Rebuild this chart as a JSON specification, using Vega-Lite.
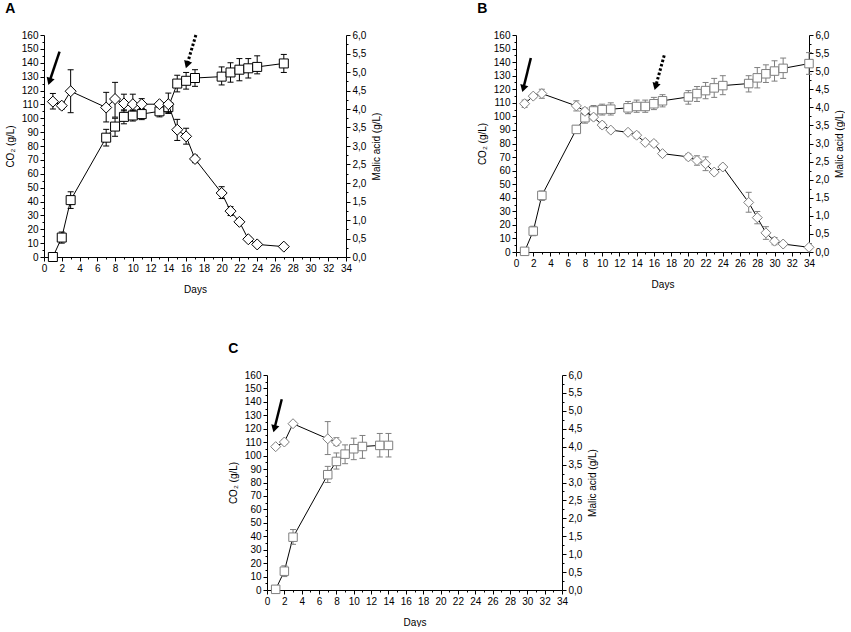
{
"$schema": "https://vega.github.io/schema/vega-lite/v6.json",
"padding": {"left": 5, "top": 2, "right": 0, "bottom": 0},
"datasets": {
"A_co2": [{"d":1,"v":0,"lo":0,"hi":0},{"d":2,"v":14,"lo":10,"hi":18},{"d":3,"v":41,"lo":35,"hi":47},{"d":7,"v":86,"lo":80,"hi":92},{"d":8,"v":94,"lo":87,"hi":100},{"d":9,"v":101,"lo":96,"hi":106},{"d":10,"v":102,"lo":98,"hi":106},{"d":11,"v":103,"lo":99,"hi":107},{"d":13,"v":105,"lo":101,"hi":109},{"d":14,"v":108,"lo":104,"hi":112},{"d":15,"v":125,"lo":119,"hi":131},{"d":16,"v":127,"lo":121,"hi":133},{"d":17,"v":129,"lo":123,"hi":135},{"d":20,"v":130,"lo":124,"hi":137},{"d":21,"v":133,"lo":126,"hi":140},{"d":22,"v":135,"lo":127,"hi":143},{"d":23,"v":136,"lo":129,"hi":143},{"d":24,"v":137,"lo":132,"hi":145},{"d":27,"v":139.5,"lo":133,"hi":146}],
"A_ma": [{"d":1,"v":4.2,"lo":4.0,"hi":4.42},{"d":2,"v":4.09,"lo":4.0,"hi":4.18},{"d":3,"v":4.48,"lo":3.9,"hi":5.06},{"d":7,"v":4.04,"lo":3.65,"hi":4.45},{"d":8,"v":4.27,"lo":3.78,"hi":4.72},{"d":9,"v":4.15,"lo":3.95,"hi":4.4},{"d":10,"v":4.13,"lo":3.95,"hi":4.4},{"d":11,"v":4.13,"lo":4.0,"hi":4.28},{"d":13,"v":4.13,"lo":4.05,"hi":4.2},{"d":14,"v":4.13,"lo":3.88,"hi":4.43},{"d":15,"v":3.44,"lo":3.15,"hi":3.72},{"d":16,"v":3.26,"lo":3.05,"hi":3.48},{"d":17,"v":2.65,"lo":2.55,"hi":2.75},{"d":20,"v":1.73,"lo":1.58,"hi":1.9},{"d":21,"v":1.24,"lo":1.12,"hi":1.36},{"d":22,"v":0.95,"lo":0.88,"hi":1.02},{"d":23,"v":0.48,"lo":0.42,"hi":0.54},{"d":24,"v":0.34,"lo":0.3,"hi":0.4},{"d":27,"v":0.28,"lo":0.22,"hi":0.34}],
"A_arr": [{"x":1.75,"y":148,"xt":0.62,"yt":126.5,"s":"solid"},{"x":17.1,"y":160,"xt":16.1,"yt":138.6,"s":"dotted"}],
"B_co2": [{"d":1,"v":0.5,"lo":0,"hi":1},{"d":2,"v":15.4,"lo":12,"hi":19},{"d":3,"v":41.7,"lo":38,"hi":45},{"d":7,"v":90.4,"lo":88,"hi":93},{"d":8,"v":99,"lo":95,"hi":103},{"d":9,"v":104,"lo":100,"hi":108},{"d":10,"v":105,"lo":101,"hi":109},{"d":11,"v":105.3,"lo":101,"hi":110},{"d":13,"v":106.3,"lo":102,"hi":111},{"d":14,"v":107.3,"lo":103,"hi":112},{"d":15,"v":107.3,"lo":103,"hi":112},{"d":16,"v":109.3,"lo":105,"hi":114},{"d":17,"v":111.5,"lo":107,"hi":116},{"d":20,"v":114.3,"lo":109,"hi":119},{"d":21,"v":116.8,"lo":111,"hi":122},{"d":22,"v":119,"lo":113,"hi":125},{"d":23,"v":121,"lo":114,"hi":128},{"d":24,"v":122.7,"lo":116,"hi":130},{"d":27,"v":124.2,"lo":118,"hi":130},{"d":28,"v":128.4,"lo":121,"hi":136},{"d":29,"v":131.4,"lo":125,"hi":138},{"d":30,"v":133.4,"lo":126,"hi":141},{"d":31,"v":135.4,"lo":128,"hi":143},{"d":34,"v":138.9,"lo":131,"hi":147}],
"B_ma": [{"d":1,"v":4.1,"lo":4.0,"hi":4.2},{"d":2,"v":4.31,"lo":4.25,"hi":4.37},{"d":3,"v":4.38,"lo":4.25,"hi":4.5},{"d":7,"v":4.04,"lo":3.9,"hi":4.18},{"d":8,"v":3.89,"lo":3.8,"hi":3.98},{"d":9,"v":3.73,"lo":3.65,"hi":3.81},{"d":10,"v":3.51,"lo":3.43,"hi":3.59},{"d":11,"v":3.37,"lo":3.3,"hi":3.44},{"d":13,"v":3.31,"lo":3.25,"hi":3.37},{"d":14,"v":3.23,"lo":3.15,"hi":3.31},{"d":15,"v":3.03,"lo":2.97,"hi":3.09},{"d":16,"v":3.0,"lo":2.93,"hi":3.07},{"d":17,"v":2.72,"lo":2.66,"hi":2.78},{"d":20,"v":2.63,"lo":2.55,"hi":2.71},{"d":21,"v":2.53,"lo":2.4,"hi":2.66},{"d":22,"v":2.44,"lo":2.25,"hi":2.63},{"d":23,"v":2.21,"lo":2.15,"hi":2.27},{"d":24,"v":2.35,"lo":2.28,"hi":2.42},{"d":27,"v":1.37,"lo":1.1,"hi":1.65},{"d":28,"v":0.95,"lo":0.78,"hi":1.12},{"d":29,"v":0.53,"lo":0.35,"hi":0.7},{"d":30,"v":0.3,"lo":0.2,"hi":0.4},{"d":31,"v":0.22,"lo":0.18,"hi":0.26},{"d":34,"v":0.13,"lo":0.1,"hi":0.16}],
"B_arr": [{"x":1.72,"y":143,"xt":0.85,"yt":120.5,"s":"solid"},{"x":17.2,"y":145,"xt":16.2,"yt":122,"s":"dotted"}],
"C_co2": [{"d":1,"v":0.5,"lo":0,"hi":2},{"d":2,"v":14,"lo":10,"hi":18},{"d":3,"v":39.3,"lo":34,"hi":45},{"d":7,"v":85.8,"lo":80,"hi":92},{"d":8,"v":95.7,"lo":90,"hi":102},{"d":9,"v":101.1,"lo":94,"hi":108},{"d":10,"v":105.1,"lo":97,"hi":113},{"d":11,"v":106.8,"lo":98,"hi":115},{"d":13,"v":107.6,"lo":99,"hi":116.5},{"d":14,"v":107.6,"lo":99,"hi":116.5}],
"C_ma": [{"d":1,"v":4.0,"lo":3.95,"hi":4.05},{"d":2,"v":4.13,"lo":4.07,"hi":4.19},{"d":3,"v":4.64,"lo":4.58,"hi":4.7},{"d":7,"v":4.22,"lo":3.78,"hi":4.7},{"d":8,"v":4.13,"lo":4.03,"hi":4.25}],
"C_arr": [{"x":1.7,"y":142,"xt":0.85,"yt":120,"s":"solid"}]
},
"config": {
"font": "Liberation Sans",
"view": {"stroke": null},
"axis": {"grid": false, "domainColor": "#000", "tickColor": "#000", "labelColor": "#000", "titleColor": "#000", "labelFontSize": 10, "titleFontSize": 10, "titleFontWeight": "normal", "tickSize": 4, "labelPadding": 2, "labelFont": "Liberation Sans", "titleFont": "Liberation Sans", "labelOverlap": false, "labelFlush": false},
"title": {"anchor": "start", "fontSize": 14, "fontWeight": "bold", "font": "Liberation Sans", "offset": 14, "color": "#000"}
},
"spacing": 48,
"vconcat": [
{"spacing": 95, "hconcat": [
{"title": {"text": "A"}, "width": 302, "height": 222,
 "resolve": {"scale": {"x": "independent", "y": "independent"}},
 "layer": [
  {"data": {"name": "A_co2"}, "layer": [
    {"mark": {"type": "line", "color": "#000", "strokeWidth": 1},
     "encoding": {"x": {"field": "d", "type": "quantitative", "scale": {"domain": [0, 34], "nice": false}, "axis": {"title": "Days", "orient": "bottom", "values": [0,2,4,6,8,10,12,14,16,18,20,22,24,26,28,30,32,34], "format": "d", "tickCount": 60, "titlePadding": 11, "labelOverlap": false}},
                  "y": {"field": "v", "type": "quantitative", "scale": {"domain": [0, 160], "nice": false}, "axis": {"title": "CO₂ (g/L)", "orient": "left", "values": [0,10,20,30,40,50,60,70,80,90,100,110,120,130,140,150,160], "format": "d", "tickCount": 60, "titlePadding": 6, "labelOverlap": false}}}},
    {"mark": {"type": "rule", "color": "#000", "strokeWidth": 1},
     "encoding": {"x": {"field": "d", "type": "quantitative", "scale": {"domain": [0, 34], "nice": false}}, "y": {"field": "lo", "type": "quantitative", "scale": {"domain": [0, 160], "nice": false}}, "y2": {"field": "hi"}}},
    {"mark": {"type": "point", "shape": "stroke", "color": "#000", "size": 36, "strokeWidth": 1, "opacity": 1},
     "encoding": {"x": {"field": "d", "type": "quantitative", "scale": {"domain": [0, 34], "nice": false}}, "y": {"field": "lo", "type": "quantitative", "scale": {"domain": [0, 160], "nice": false}}}},
    {"mark": {"type": "point", "shape": "stroke", "color": "#000", "size": 36, "strokeWidth": 1, "opacity": 1},
     "encoding": {"x": {"field": "d", "type": "quantitative", "scale": {"domain": [0, 34], "nice": false}}, "y": {"field": "hi", "type": "quantitative", "scale": {"domain": [0, 160], "nice": false}}}},
    {"mark": {"type": "point", "shape": "square", "filled": true, "fill": "#fff", "stroke": "#000", "strokeWidth": 1, "size": 81, "opacity": 1},
     "encoding": {"x": {"field": "d", "type": "quantitative", "scale": {"domain": [0, 34], "nice": false}}, "y": {"field": "v", "type": "quantitative", "scale": {"domain": [0, 160], "nice": false}}}},
    {"data": {"name": "A_arr"}, "transform": [{"filter": "datum.s == 'solid'"}], "mark": {"type": "rule", "color": "#000", "strokeWidth": 2.5},
     "encoding": {"x": {"field": "x", "type": "quantitative", "scale": {"domain": [0, 34], "nice": false}}, "y": {"field": "y", "type": "quantitative", "scale": {"domain": [0, 160], "nice": false}}, "x2": {"field": "xt"}, "y2": {"field": "yt"}}},
    {"data": {"name": "A_arr"}, "transform": [{"filter": "datum.s == 'dotted'"}], "mark": {"type": "rule", "color": "#000", "strokeWidth": 3, "strokeDash": [2.5, 2]},
     "encoding": {"x": {"field": "x", "type": "quantitative", "scale": {"domain": [0, 34], "nice": false}}, "y": {"field": "y", "type": "quantitative", "scale": {"domain": [0, 160], "nice": false}}, "x2": {"field": "xt"}, "y2": {"field": "yt"}}},
    {"data": {"name": "A_arr"}, "mark": {"type": "point", "shape": "triangle-down", "filled": true, "color": "#000", "size": 70, "angle": 18, "opacity": 1},
     "encoding": {"x": {"field": "xt", "type": "quantitative", "scale": {"domain": [0, 34], "nice": false}}, "y": {"field": "yt", "type": "quantitative", "scale": {"domain": [0, 160], "nice": false}}}}
  ]},
  {"data": {"name": "A_ma"}, "layer": [
    {"mark": {"type": "line", "color": "#000", "strokeWidth": 1},
     "encoding": {"x": {"field": "d", "type": "quantitative", "scale": {"domain": [0, 34], "nice": false}, "axis": null},
                  "y": {"field": "v", "type": "quantitative", "scale": {"domain": [0, 6], "nice": false}, "axis": {"orient": "right", "title": "Malic acid (g/L)", "values": [0,0.5,1,1.5,2,2.5,3,3.5,4,4.5,5,5.5,6], "tickCount": 60, "labelExpr": "replace(format(datum.value, '.1f'), '.', ',')", "titleAngle": 270, "titleBaseline": "top", "titlePadding": 6, "labelOverlap": false}}}},
    {"mark": {"type": "rule", "color": "#000", "strokeWidth": 1},
     "encoding": {"x": {"field": "d", "type": "quantitative", "scale": {"domain": [0, 34], "nice": false}}, "y": {"field": "lo", "type": "quantitative", "scale": {"domain": [0, 6], "nice": false}}, "y2": {"field": "hi"}}},
    {"mark": {"type": "point", "shape": "stroke", "color": "#000", "size": 36, "strokeWidth": 1, "opacity": 1},
     "encoding": {"x": {"field": "d", "type": "quantitative", "scale": {"domain": [0, 34], "nice": false}}, "y": {"field": "lo", "type": "quantitative", "scale": {"domain": [0, 6], "nice": false}}}},
    {"mark": {"type": "point", "shape": "stroke", "color": "#000", "size": 36, "strokeWidth": 1, "opacity": 1},
     "encoding": {"x": {"field": "d", "type": "quantitative", "scale": {"domain": [0, 34], "nice": false}}, "y": {"field": "hi", "type": "quantitative", "scale": {"domain": [0, 6], "nice": false}}}},
    {"mark": {"type": "point", "shape": "diamond", "filled": true, "fill": "#fff", "stroke": "#000", "strokeWidth": 1, "size": 121, "opacity": 1},
     "encoding": {"x": {"field": "d", "type": "quantitative", "scale": {"domain": [0, 34], "nice": false}}, "y": {"field": "v", "type": "quantitative", "scale": {"domain": [0, 6], "nice": false}}}}
  ]},
  {"data": {"name": "A_co2"}, "mark": {"type": "point", "opacity": 0},
   "encoding": {"x": {"field": "d", "type": "quantitative", "scale": {"domain": [0, 34], "nice": false}, "axis": {"title": null, "orient": "bottom", "values": [1,3,5,7,9,11,13,15,17,19,21,23,25,27,29,31,33], "tickCount": 60, "labels": false, "domain": false, "tickSize": 2}},
                "y": {"field": "v", "type": "quantitative", "scale": {"domain": [0, 160], "nice": false}, "axis": {"title": null, "orient": "left", "values": [5,15,25,35,45,55,65,75,85,95,105,115,125,135,145,155], "tickCount": 60, "labels": false, "domain": false, "tickSize": 2}}}},
  {"data": {"name": "A_ma"}, "mark": {"type": "point", "opacity": 0},
   "encoding": {"x": {"field": "d", "type": "quantitative", "scale": {"domain": [0, 34], "nice": false}, "axis": null},
                "y": {"field": "v", "type": "quantitative", "scale": {"domain": [0, 6], "nice": false}, "axis": {"orient": "right", "title": null, "values": [0.25,0.75,1.25,1.75,2.25,2.75,3.25,3.75,4.25,4.75,5.25,5.75], "tickCount": 60, "labels": false, "domain": false, "tickSize": 2}}}}
 ]},
{"title": {"text": "B"}, "width": 293, "height": 217,
 "resolve": {"scale": {"x": "independent", "y": "independent"}},
 "layer": [
  {"data": {"name": "B_co2"}, "layer": [
    {"mark": {"type": "line", "color": "#000", "strokeWidth": 1},
     "encoding": {"x": {"field": "d", "type": "quantitative", "scale": {"domain": [0, 34], "nice": false}, "axis": {"title": "Days", "orient": "bottom", "values": [0,2,4,6,8,10,12,14,16,18,20,22,24,26,28,30,32,34], "format": "d", "tickCount": 60, "titlePadding": 11, "labelOverlap": false}},
                  "y": {"field": "v", "type": "quantitative", "scale": {"domain": [0, 160], "nice": false}, "axis": {"title": "CO₂ (g/L)", "orient": "left", "values": [0,10,20,30,40,50,60,70,80,90,100,110,120,130,140,150,160], "format": "d", "tickCount": 60, "titlePadding": 6, "labelOverlap": false}}}},
    {"mark": {"type": "rule", "color": "#7f7f7f", "strokeWidth": 1},
     "encoding": {"x": {"field": "d", "type": "quantitative", "scale": {"domain": [0, 34], "nice": false}}, "y": {"field": "lo", "type": "quantitative", "scale": {"domain": [0, 160], "nice": false}}, "y2": {"field": "hi"}}},
    {"mark": {"type": "point", "shape": "stroke", "color": "#7f7f7f", "size": 36, "strokeWidth": 1, "opacity": 1},
     "encoding": {"x": {"field": "d", "type": "quantitative", "scale": {"domain": [0, 34], "nice": false}}, "y": {"field": "lo", "type": "quantitative", "scale": {"domain": [0, 160], "nice": false}}}},
    {"mark": {"type": "point", "shape": "stroke", "color": "#7f7f7f", "size": 36, "strokeWidth": 1, "opacity": 1},
     "encoding": {"x": {"field": "d", "type": "quantitative", "scale": {"domain": [0, 34], "nice": false}}, "y": {"field": "hi", "type": "quantitative", "scale": {"domain": [0, 160], "nice": false}}}},
    {"mark": {"type": "point", "shape": "square", "filled": true, "fill": "#fff", "stroke": "#7f7f7f", "strokeWidth": 1, "size": 72, "opacity": 1},
     "encoding": {"x": {"field": "d", "type": "quantitative", "scale": {"domain": [0, 34], "nice": false}}, "y": {"field": "v", "type": "quantitative", "scale": {"domain": [0, 160], "nice": false}}}},
    {"data": {"name": "B_arr"}, "transform": [{"filter": "datum.s == 'solid'"}], "mark": {"type": "rule", "color": "#000", "strokeWidth": 2.5},
     "encoding": {"x": {"field": "x", "type": "quantitative", "scale": {"domain": [0, 34], "nice": false}}, "y": {"field": "y", "type": "quantitative", "scale": {"domain": [0, 160], "nice": false}}, "x2": {"field": "xt"}, "y2": {"field": "yt"}}},
    {"data": {"name": "B_arr"}, "transform": [{"filter": "datum.s == 'dotted'"}], "mark": {"type": "rule", "color": "#000", "strokeWidth": 3, "strokeDash": [2.5, 2]},
     "encoding": {"x": {"field": "x", "type": "quantitative", "scale": {"domain": [0, 34], "nice": false}}, "y": {"field": "y", "type": "quantitative", "scale": {"domain": [0, 160], "nice": false}}, "x2": {"field": "xt"}, "y2": {"field": "yt"}}},
    {"data": {"name": "B_arr"}, "mark": {"type": "point", "shape": "triangle-down", "filled": true, "color": "#000", "size": 70, "angle": 16, "opacity": 1},
     "encoding": {"x": {"field": "xt", "type": "quantitative", "scale": {"domain": [0, 34], "nice": false}}, "y": {"field": "yt", "type": "quantitative", "scale": {"domain": [0, 160], "nice": false}}}}
  ]},
  {"data": {"name": "B_ma"}, "layer": [
    {"mark": {"type": "line", "color": "#000", "strokeWidth": 1},
     "encoding": {"x": {"field": "d", "type": "quantitative", "scale": {"domain": [0, 34], "nice": false}, "axis": null},
                  "y": {"field": "v", "type": "quantitative", "scale": {"domain": [0, 6], "nice": false}, "axis": {"orient": "right", "title": "Malic acid (g/L)", "values": [0,0.5,1,1.5,2,2.5,3,3.5,4,4.5,5,5.5,6], "tickCount": 60, "labelExpr": "replace(format(datum.value, '.1f'), '.', ',')", "titleAngle": 270, "titleBaseline": "top", "titlePadding": 6, "labelOverlap": false}}}},
    {"mark": {"type": "rule", "color": "#7f7f7f", "strokeWidth": 1},
     "encoding": {"x": {"field": "d", "type": "quantitative", "scale": {"domain": [0, 34], "nice": false}}, "y": {"field": "lo", "type": "quantitative", "scale": {"domain": [0, 6], "nice": false}}, "y2": {"field": "hi"}}},
    {"mark": {"type": "point", "shape": "stroke", "color": "#7f7f7f", "size": 36, "strokeWidth": 1, "opacity": 1},
     "encoding": {"x": {"field": "d", "type": "quantitative", "scale": {"domain": [0, 34], "nice": false}}, "y": {"field": "lo", "type": "quantitative", "scale": {"domain": [0, 6], "nice": false}}}},
    {"mark": {"type": "point", "shape": "stroke", "color": "#7f7f7f", "size": 36, "strokeWidth": 1, "opacity": 1},
     "encoding": {"x": {"field": "d", "type": "quantitative", "scale": {"domain": [0, 34], "nice": false}}, "y": {"field": "hi", "type": "quantitative", "scale": {"domain": [0, 6], "nice": false}}}},
    {"mark": {"type": "point", "shape": "diamond", "filled": true, "fill": "#fff", "stroke": "#7f7f7f", "strokeWidth": 1, "size": 100, "opacity": 1},
     "encoding": {"x": {"field": "d", "type": "quantitative", "scale": {"domain": [0, 34], "nice": false}}, "y": {"field": "v", "type": "quantitative", "scale": {"domain": [0, 6], "nice": false}}}}
  ]},
  {"data": {"name": "B_co2"}, "mark": {"type": "point", "opacity": 0},
   "encoding": {"x": {"field": "d", "type": "quantitative", "scale": {"domain": [0, 34], "nice": false}, "axis": {"title": null, "orient": "bottom", "values": [1,3,5,7,9,11,13,15,17,19,21,23,25,27,29,31,33], "tickCount": 60, "labels": false, "domain": false, "tickSize": 2}},
                "y": {"field": "v", "type": "quantitative", "scale": {"domain": [0, 160], "nice": false}, "axis": {"title": null, "orient": "left", "values": [5,15,25,35,45,55,65,75,85,95,105,115,125,135,145,155], "tickCount": 60, "labels": false, "domain": false, "tickSize": 2}}}},
  {"data": {"name": "B_ma"}, "mark": {"type": "point", "opacity": 0},
   "encoding": {"x": {"field": "d", "type": "quantitative", "scale": {"domain": [0, 34], "nice": false}, "axis": null},
                "y": {"field": "v", "type": "quantitative", "scale": {"domain": [0, 6], "nice": false}, "axis": {"orient": "right", "title": null, "values": [0.25,0.75,1.25,1.75,2.25,2.75,3.25,3.75,4.25,4.75,5.25,5.75], "tickCount": 60, "labels": false, "domain": false, "tickSize": 2}}}}
 ]}
]},
{"spacing": 183, "hconcat": [
{"width": 1, "height": 10, "data": {"values": []}, "mark": {"type": "point", "opacity": 0}, "encoding": {}},
{"title": {"text": "C"}, "width": 295, "height": 215,
 "resolve": {"scale": {"x": "independent", "y": "independent"}},
 "layer": [
  {"data": {"name": "C_co2"}, "layer": [
    {"mark": {"type": "line", "color": "#000", "strokeWidth": 1},
     "encoding": {"x": {"field": "d", "type": "quantitative", "scale": {"domain": [0, 34], "nice": false}, "axis": {"title": "Days", "orient": "bottom", "values": [0,2,4,6,8,10,12,14,16,18,20,22,24,26,28,30,32,34], "format": "d", "tickCount": 60, "titlePadding": 11, "labelOverlap": false}},
                  "y": {"field": "v", "type": "quantitative", "scale": {"domain": [0, 160], "nice": false}, "axis": {"title": "CO₂ (g/L)", "orient": "left", "values": [0,10,20,30,40,50,60,70,80,90,100,110,120,130,140,150,160], "format": "d", "tickCount": 60, "titlePadding": 6, "labelOverlap": false}}}},
    {"mark": {"type": "rule", "color": "#7f7f7f", "strokeWidth": 1},
     "encoding": {"x": {"field": "d", "type": "quantitative", "scale": {"domain": [0, 34], "nice": false}}, "y": {"field": "lo", "type": "quantitative", "scale": {"domain": [0, 160], "nice": false}}, "y2": {"field": "hi"}}},
    {"mark": {"type": "point", "shape": "stroke", "color": "#7f7f7f", "size": 36, "strokeWidth": 1, "opacity": 1},
     "encoding": {"x": {"field": "d", "type": "quantitative", "scale": {"domain": [0, 34], "nice": false}}, "y": {"field": "lo", "type": "quantitative", "scale": {"domain": [0, 160], "nice": false}}}},
    {"mark": {"type": "point", "shape": "stroke", "color": "#7f7f7f", "size": 36, "strokeWidth": 1, "opacity": 1},
     "encoding": {"x": {"field": "d", "type": "quantitative", "scale": {"domain": [0, 34], "nice": false}}, "y": {"field": "hi", "type": "quantitative", "scale": {"domain": [0, 160], "nice": false}}}},
    {"mark": {"type": "point", "shape": "square", "filled": true, "fill": "#fff", "stroke": "#7f7f7f", "strokeWidth": 1, "size": 72, "opacity": 1},
     "encoding": {"x": {"field": "d", "type": "quantitative", "scale": {"domain": [0, 34], "nice": false}}, "y": {"field": "v", "type": "quantitative", "scale": {"domain": [0, 160], "nice": false}}}},
    {"data": {"name": "C_arr"}, "mark": {"type": "rule", "color": "#000", "strokeWidth": 2.5},
     "encoding": {"x": {"field": "x", "type": "quantitative", "scale": {"domain": [0, 34], "nice": false}}, "y": {"field": "y", "type": "quantitative", "scale": {"domain": [0, 160], "nice": false}}, "x2": {"field": "xt"}, "y2": {"field": "yt"}}},
    {"data": {"name": "C_arr"}, "mark": {"type": "point", "shape": "triangle-down", "filled": true, "color": "#000", "size": 70, "angle": 15, "opacity": 1},
     "encoding": {"x": {"field": "xt", "type": "quantitative", "scale": {"domain": [0, 34], "nice": false}}, "y": {"field": "yt", "type": "quantitative", "scale": {"domain": [0, 160], "nice": false}}}}
  ]},
  {"data": {"name": "C_ma"}, "layer": [
    {"mark": {"type": "line", "color": "#000", "strokeWidth": 1},
     "encoding": {"x": {"field": "d", "type": "quantitative", "scale": {"domain": [0, 34], "nice": false}, "axis": null},
                  "y": {"field": "v", "type": "quantitative", "scale": {"domain": [0, 6], "nice": false}, "axis": {"orient": "right", "title": "Malic acid (g/L)", "values": [0,0.5,1,1.5,2,2.5,3,3.5,4,4.5,5,5.5,6], "tickCount": 60, "labelExpr": "replace(format(datum.value, '.1f'), '.', ',')", "titleAngle": 270, "titleBaseline": "top", "titlePadding": 6, "labelOverlap": false}}}},
    {"mark": {"type": "rule", "color": "#7f7f7f", "strokeWidth": 1},
     "encoding": {"x": {"field": "d", "type": "quantitative", "scale": {"domain": [0, 34], "nice": false}}, "y": {"field": "lo", "type": "quantitative", "scale": {"domain": [0, 6], "nice": false}}, "y2": {"field": "hi"}}},
    {"mark": {"type": "point", "shape": "stroke", "color": "#7f7f7f", "size": 36, "strokeWidth": 1, "opacity": 1},
     "encoding": {"x": {"field": "d", "type": "quantitative", "scale": {"domain": [0, 34], "nice": false}}, "y": {"field": "lo", "type": "quantitative", "scale": {"domain": [0, 6], "nice": false}}}},
    {"mark": {"type": "point", "shape": "stroke", "color": "#7f7f7f", "size": 36, "strokeWidth": 1, "opacity": 1},
     "encoding": {"x": {"field": "d", "type": "quantitative", "scale": {"domain": [0, 34], "nice": false}}, "y": {"field": "hi", "type": "quantitative", "scale": {"domain": [0, 6], "nice": false}}}},
    {"mark": {"type": "point", "shape": "diamond", "filled": true, "fill": "#fff", "stroke": "#7f7f7f", "strokeWidth": 1, "size": 100, "opacity": 1},
     "encoding": {"x": {"field": "d", "type": "quantitative", "scale": {"domain": [0, 34], "nice": false}}, "y": {"field": "v", "type": "quantitative", "scale": {"domain": [0, 6], "nice": false}}}}
  ]},
  {"data": {"name": "C_co2"}, "mark": {"type": "point", "opacity": 0},
   "encoding": {"x": {"field": "d", "type": "quantitative", "scale": {"domain": [0, 34], "nice": false}, "axis": {"title": null, "orient": "bottom", "values": [1,3,5,7,9,11,13,15,17,19,21,23,25,27,29,31,33], "tickCount": 60, "labels": false, "domain": false, "tickSize": 2}},
                "y": {"field": "v", "type": "quantitative", "scale": {"domain": [0, 160], "nice": false}, "axis": {"title": null, "orient": "left", "values": [5,15,25,35,45,55,65,75,85,95,105,115,125,135,145,155], "tickCount": 60, "labels": false, "domain": false, "tickSize": 2}}}},
  {"data": {"name": "C_ma"}, "mark": {"type": "point", "opacity": 0},
   "encoding": {"x": {"field": "d", "type": "quantitative", "scale": {"domain": [0, 34], "nice": false}, "axis": null},
                "y": {"field": "v", "type": "quantitative", "scale": {"domain": [0, 6], "nice": false}, "axis": {"orient": "right", "title": null, "values": [0.25,0.75,1.25,1.75,2.25,2.75,3.25,3.75,4.25,4.75,5.25,5.75], "tickCount": 60, "labels": false, "domain": false, "tickSize": 2}}}}
 ]}
]}
]
}
